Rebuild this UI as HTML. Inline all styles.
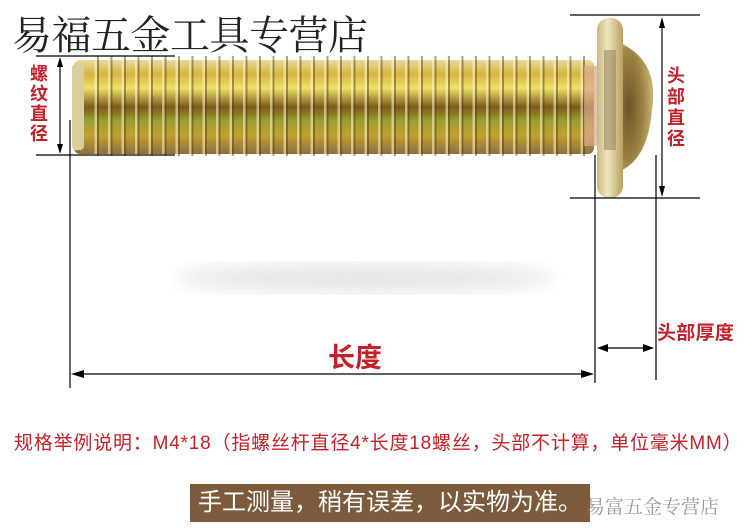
<!DOCTYPE html>
<html><head><meta charset="utf-8"><style>
body{margin:0;width:750px;height:530px;background:#fff;overflow:hidden;position:relative;font-family:"Liberation Sans","Noto Sans CJK SC",sans-serif}
.a{position:absolute}
.red{color:#c0222a;font-weight:bold}
</style></head><body>
<svg class="a" style="left:0;top:0" width="750" height="530">
<defs>
<linearGradient id="sh" x1="0" y1="0" x2="0" y2="1">
<stop offset="0" stop-color="#e8d9a0"/><stop offset="0.15" stop-color="#d6b640"/><stop offset="0.3" stop-color="#efe06a"/><stop offset="0.5" stop-color="#7a5a1c"/><stop offset="0.65" stop-color="#9aa030"/><stop offset="0.8" stop-color="#c2a030"/><stop offset="1" stop-color="#8a7040"/>
</linearGradient>
<pattern id="th" x="72" y="0" width="13.5" height="200" patternUnits="userSpaceOnUse">
<rect x="9" y="0" width="2.5" height="200" fill="#fff6c8" opacity="0.55"/>
<rect x="11.5" y="0" width="2" height="200" fill="#4a3510" opacity="0.45"/>
</pattern>
<linearGradient id="hd" x1="0" y1="0" x2="1" y2="0">
<stop offset="0" stop-color="#c8b880"/><stop offset="0.4" stop-color="#efe6c0"/><stop offset="1" stop-color="#b8a060"/>
</linearGradient>
<radialGradient id="dm" cx="0.3" cy="0.5" r="0.8">
<stop offset="0" stop-color="#6a5528"/><stop offset="0.5" stop-color="#9a8040"/><stop offset="1" stop-color="#d8c890"/>
</radialGradient>
<filter id="bl"><feGaussianBlur stdDeviation="9"/></filter>
</defs>
<ellipse cx="365" cy="278" rx="190" ry="14" fill="#e6e6e6" filter="url(#bl)"/>
<rect x="74" y="60" width="520" height="94" rx="6" fill="url(#sh)"/>
<rect x="86" y="56" width="508" height="100" fill="url(#th)"/>
<rect x="72" y="64" width="12" height="86" rx="4" fill="#d8cfa0"/>
<rect x="584" y="66" width="14" height="80" fill="#d8a890" opacity="0.7"/>
<path d="M618 42 Q660 60 652 110 Q648 160 618 172 Z" fill="url(#dm)"/>
<rect x="597" y="18" width="26" height="180" rx="12" fill="url(#hd)"/>
<rect x="604" y="50" width="12" height="100" fill="#8a7a50" opacity="0.5"/>
<g stroke="#000" stroke-width="1.2" fill="none">
<line x1="36" y1="56" x2="175" y2="56"/>
<line x1="36" y1="155" x2="175" y2="155"/>
<line x1="60" y1="60" x2="60" y2="151"/>
<line x1="70" y1="120" x2="70" y2="388"/>
<line x1="570" y1="15" x2="700" y2="15"/>
<line x1="570" y1="198" x2="700" y2="198"/>
<line x1="662" y1="20" x2="662" y2="194"/>
<line x1="595" y1="155" x2="595" y2="383"/>
<line x1="656" y1="155" x2="656" y2="380"/>
<line x1="74" y1="374" x2="590" y2="374"/>
<line x1="600" y1="348" x2="651" y2="348"/>
</g>
<g fill="#000">
<polygon points="60,57 57,67 63,67"/><polygon points="60,154 57,144 63,144"/>
<polygon points="662,17 659,28 665,28"/><polygon points="662,197 659,186 665,186"/>
<polygon points="71,374 84,370 84,378"/><polygon points="594,374 581,370 581,378"/>
<polygon points="597,348 608,344 608,352"/><polygon points="654,348 643,344 643,352"/>
</g>
</svg>
<div class="a" style="left:12px;top:4px;font-size:40px;color:#222;font-family:'Liberation Serif','Noto Serif CJK SC',serif;letter-spacing:-0.5px">易福五金工具专营店</div>
<div class="a red" style="left:30px;top:64px;width:20px;font-size:18px;line-height:20px">螺纹直径</div>
<div class="a red" style="left:667px;top:66px;width:20px;font-size:18px;line-height:21px">头部直径</div>
<div class="a red" style="left:657px;top:318px;font-size:19px;letter-spacing:0.3px">头部厚度</div>
<div class="a red" style="left:328px;top:336px;font-size:27px">长度</div>
<div class="a" style="left:14px;top:428px;font-size:19px;color:#c0222a;letter-spacing:0.8px;white-space:nowrap">规格举例说明：M4*18（指螺丝杆直径4*长度18螺丝，头部不计算，单位毫米MM）</div>
<div class="a" style="left:190px;top:484px;width:400px;height:38px;background:#7b5b3c;color:#fff;font-size:24px;line-height:38px;text-align:center">手工测量，稍有误差，以实物为准。</div>
<div class="a" style="left:586px;top:492px;font-size:19px;color:#999;font-family:'Liberation Serif','Noto Serif CJK SC',serif">易富五金专营店</div>
</body></html>
